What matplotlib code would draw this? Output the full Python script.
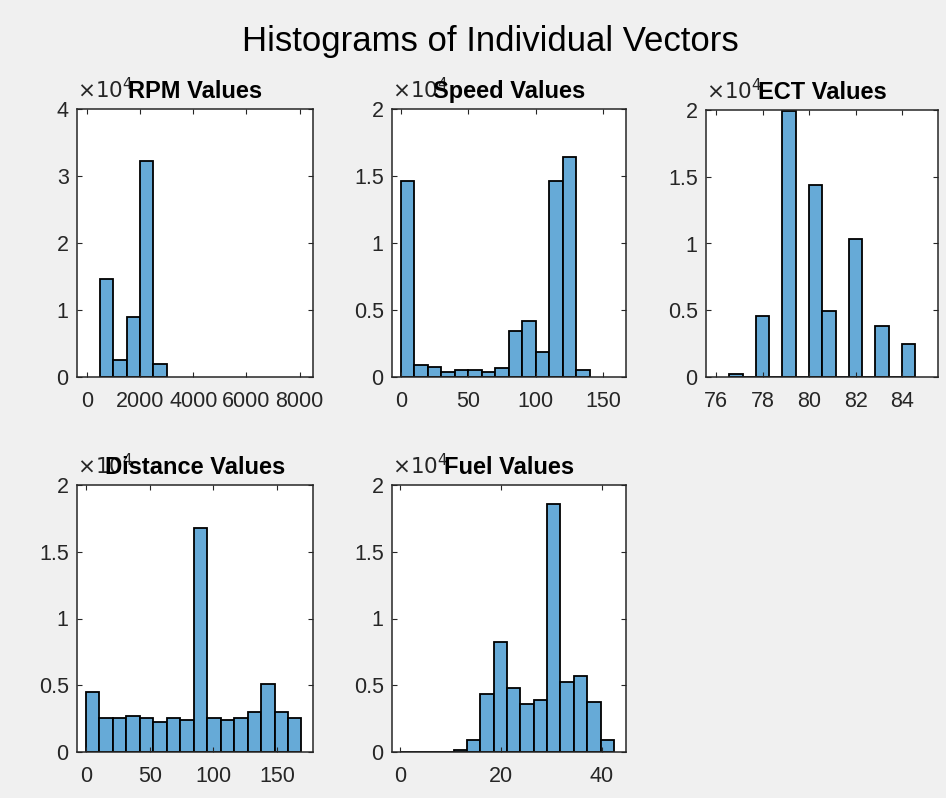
import numpy as np
import matplotlib
matplotlib.use("Agg")
from matplotlib import pyplot as plt
from matplotlib.ticker import FuncFormatter

plt.rcParams['font.family'] = ['Liberation Sans', 'DejaVu Sans']

# histogram counts (raw counts)
rpm_start, rpm_width = 500, 500
rpm_counts = [14560, 2600, 8900, 32300, 2000]

speed_start, speed_width = 0, 10
speed_counts = [14600, 870, 750, 400, 550, 550, 400, 700,
                3400, 4200, 1900, 14600, 16400, 550]

ect_start, ect_width = 76.57, 0.57
ect_counts = [250, 0, 4600, 0, 19950, 0, 14350, 4950,
              0, 10300, 0, 3850, 0, 2500]

dist_start, dist_width = 0, 10.56
dist_counts = [4500, 2550, 2550, 2700, 2580, 2250, 2580, 2430,
               16800, 2580, 2430, 2580, 3000, 5080, 3000, 2580]

fuel_start, fuel_width = 0, 2.65
fuel_counts = [0, 0, 0, 0, 120, 900, 4350, 8250,
               4800, 3600, 3900, 18600, 5250, 5700, 3750, 900]

panels = [
    # title, start, width, counts, xlim, xticks, ylim, yticks, box(px: l, t, r, b)
    ("RPM Values", rpm_start, rpm_width, rpm_counts, (-370, 8500),
     [0, 2000, 4000, 6000, 8000], 4, [0, 1, 2, 3, 4], (77, 109, 313, 377)),
    ("Speed Values", speed_start, speed_width, speed_counts, (-6.7, 167),
     [0, 50, 100, 150], 2, [0, 0.5, 1, 1.5, 2], (392, 109, 626, 377)),
    ("ECT Values", ect_start, ect_width, ect_counts, (75.57, 85.53),
     [76, 78, 80, 82, 84], 2, [0, 0.5, 1, 1.5, 2], (706, 110, 938, 377)),
    ("Distance Values", dist_start, dist_width, dist_counts, (-7, 178),
     [0, 50, 100, 150], 2, [0, 0.5, 1, 1.5, 2], (77, 485, 313, 752)),
    ("Fuel Values", fuel_start, fuel_width, fuel_counts, (-1.6, 44.8),
     [0, 20, 40], 2, [0, 0.5, 1, 1.5, 2], (392, 485, 626, 752)),
]

W, H = 946, 798
fig = plt.figure(figsize=(W / 100, H / 100), dpi=100, facecolor='#f0f0f0')

bar_color = (0.4, 0.668, 0.845)
grey = '#262626'

for title, start, width, counts, xlim, xticks, ylim, yticks, box in panels:
    l, t, r, b = box
    ax = fig.add_axes([l / W, 1 - b / H, (r - l) / W, (b - t) / H])
    counts = np.array(counts) / 1e4
    lefts = start + width * np.arange(len(counts))
    ax.bar(lefts, counts, width=width, align='edge', color=bar_color,
           edgecolor='black', linewidth=1.3)
    ax.set_xlim(*xlim)
    ax.set_ylim(0, ylim)
    ax.set_xticks(xticks)
    ax.set_yticks(yticks)
    ax.yaxis.set_major_formatter(FuncFormatter(lambda v, p: '%g' % v))
    ax.tick_params(direction='in', top=True, right=True, length=3.5,
                   width=0.8, colors=grey, labelsize=15.5)
    ax.tick_params(axis='x', pad=10)
    ax.tick_params(axis='y', pad=6)
    for s in ax.spines.values():
        s.set_color(grey)
        s.set_linewidth(1.1)
    # exponent label sits under the title, as in the original
    ax.text(0.0, 1.0 + 6 / (b - t), r'$\times10^{4}$', transform=ax.transAxes,
            ha='left', va='bottom', fontsize=15.5, color=grey, zorder=1)
    ax.set_title(title, fontsize=17, fontweight='bold', pad=8, color='black')

fig.text(0.518, 1 - 41 / H, "Histograms of Individual Vectors",
         ha='center', va='center', fontsize=25, color='black')

fig.savefig("out.png", dpi=100, facecolor=fig.get_facecolor())
